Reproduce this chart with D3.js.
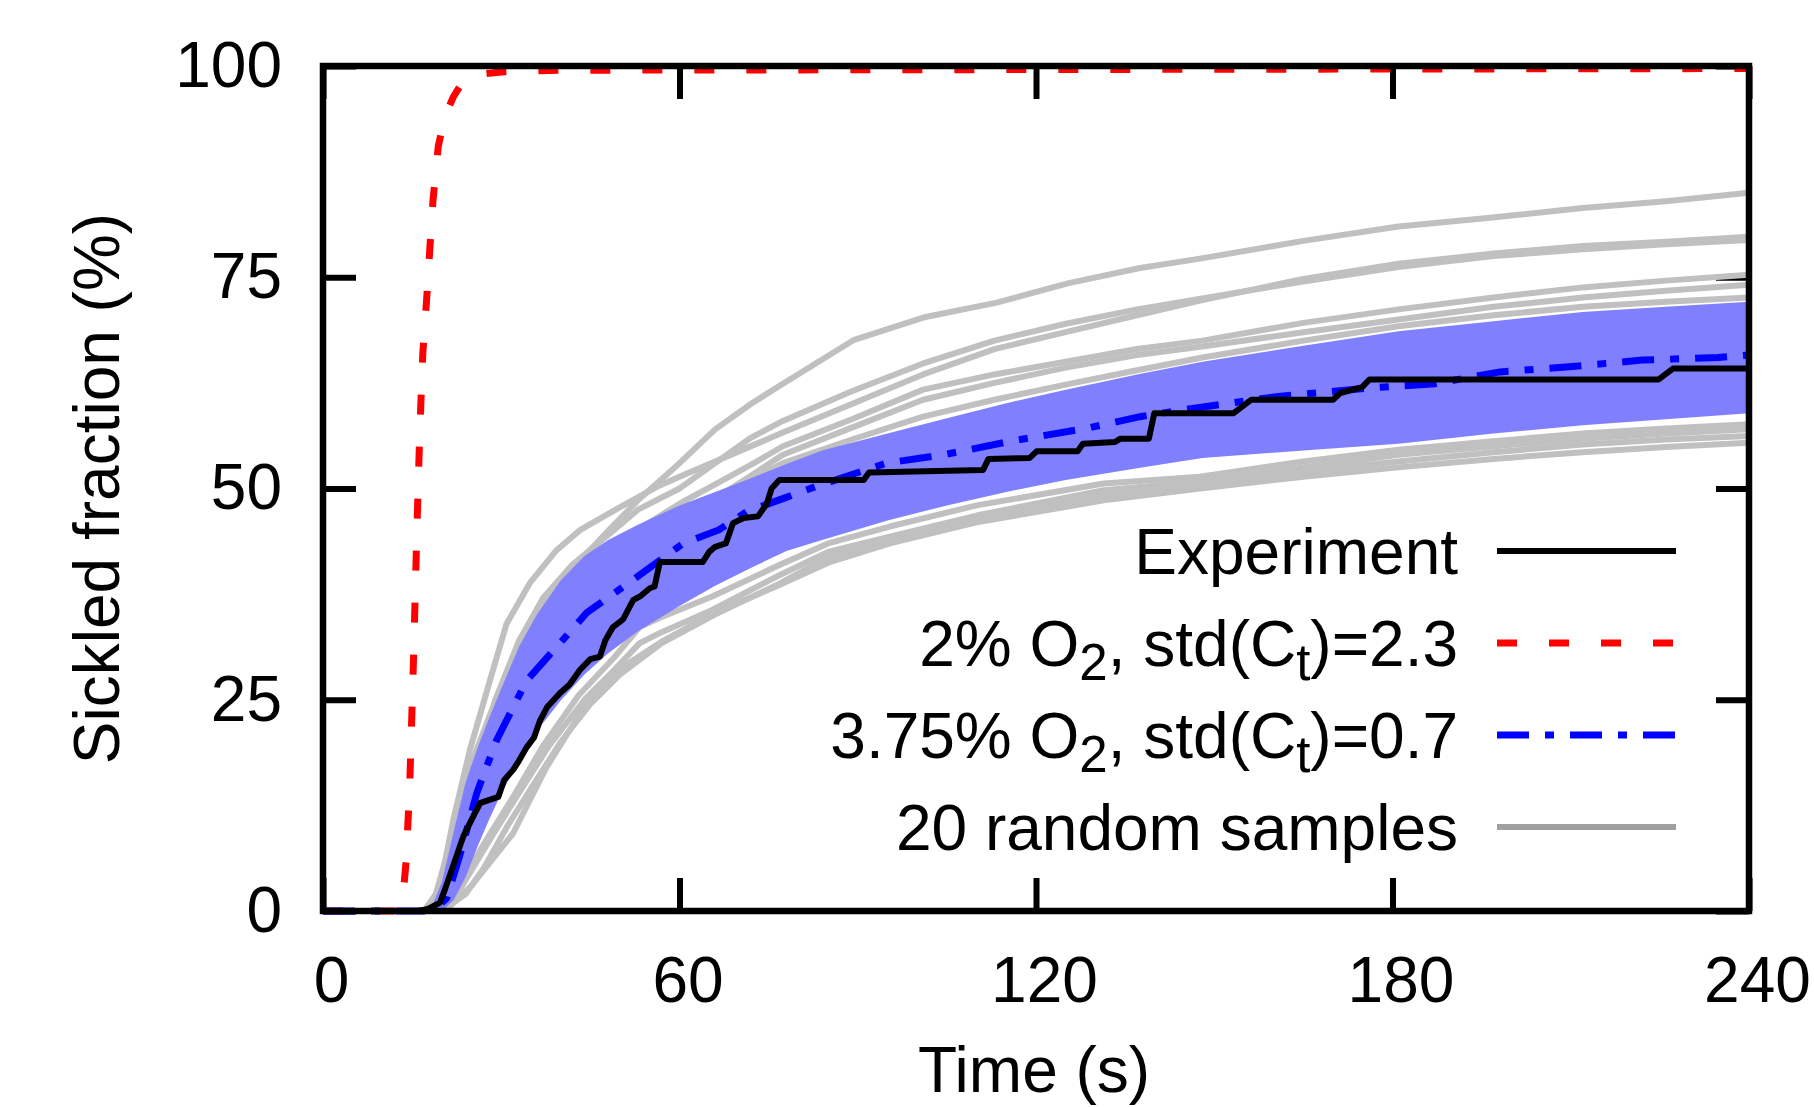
<!DOCTYPE html>
<html>
<head>
<meta charset="utf-8">
<script src="https://cdn.jsdelivr.net/npm/d3@7"></script>
<style>
  body { margin: 0; background: #fff; }
  svg text { font-family: "Liberation Sans", Arial, Helvetica, sans-serif; }
</style>
</head>
<body>
<div id="chart"></div>
<script>
// ticks
const xTicks = [0, 60, 120, 180, 240];
const yTicks = [0, 25, 50, 75, 100];

// experiment (black), [time s, sickled %]
const experiment = [[0,0],[16,0],[17.5,0.2],[19.7,1],[20.5,2.5],[23.6,8.8],[25.5,11.5],[26.5,12.8],[29.5,13.5],
  [30.5,15.5],[32,16.7],[33,17.8],[34.3,19.4],[35.5,20.5],[36.5,22.5],[37.7,24.1],[39.9,25.8],[41.5,26.8],
  [43.2,28.5],[45,29.8],[46.6,30.1],[47.5,32],[48.8,33.6],[50.5,34.5],[52.2,36.8],[53.5,37.3],[55,38.2],
  [55.8,38.4],[56.7,41.3],[63.9,41.3],[65,42.5],[66,43.1],[67.8,43.5],[69,45.9],[70.8,46.5],[73.2,46.7],
  [74.7,48.2],[75.5,50],[76.8,51],[91,51],[91.9,51.9],[111.1,52.2],[112,53.5],[118.9,53.6],[120.1,54.4],
  [127,54.4],[127.9,55.3],[133.3,55.5],[134.2,55.9],[139,55.9],[139.9,58.9],[153.2,58.9],[156.2,60.5],
  [170,60.5],[171.2,61.3],[174.9,62],[176.1,62.9],[224.8,62.9],[227.2,64.2],[240,64.2]];

// 2% O2, std(Ct)=2.3 (red)
const o2Two = [[0,0],[12.5,0],[13.5,2],[14,6],[14.6,15],[15.2,29],[15.8,45],[16.3,57],[16.8,66],[17.5,73],
  [18,78.6],[18.5,84],[19.4,90.5],[20.5,94],[21.9,96.3],[23.4,98],[26,99],[30,99.3],[40,99.5],[240,99.7]];

// 3.75% O2, std(Ct)=0.7 mean (blue)
const o2Mid = [[0,0],[17,0],[19,0.3],[20.8,1.5],[23,6.5],[25.9,14],[29.2,20.2],[34.3,27.3],[39.9,31.7],
  [44.4,35.3],[52.2,39.2],[60.6,43.5],[66.6,45.1],[71.4,47.3],[77.4,48.8],[82.8,50.2],[94.8,53],[104.5,54],
  [116.5,55.7],[128.4,57.1],[137.5,58.5],[144.6,59.3],[160.8,60.9],[176.1,61.9],[187.1,62.4],[198.1,63.8],
  [209.7,64.4],[222,65.2],[234.8,65.5],[240,65.8]];

// spread band around the blue mean
const bandT  = [18,20,22,24,26,28,30,33,36,40,44,48,53,60,66,72,78,84,95,105,115,125,137,148,165,181,197,212,226,240];
const bandHi = [0,3.4,9.4,15.2,19.3,22.9,26.3,31.3,35.1,39.1,42,43.9,45.7,48,49.6,51.2,52.9,54.5,56.5,58.3,60.1,61.7,63.5,65,66.9,68.6,69.8,70.9,71.5,72.1];
const bandLo = [0,0,1.3,4,7.6,10.9,13.9,17.8,21.3,24.9,28,30.5,33.1,36.1,38.5,40.6,42.6,43.9,46.2,48,49.6,51,52.4,53.6,54.5,55.3,56.5,57.5,58.2,58.9];

// random samples (grey)
const samples = [
  [[0,0],[18,0],[21,5],[24,14],[28,23],[32,30],[37,36],[42,40.5],[48,45],[53,48.6],[60,53],[66,57],[72,60],[77.4,62.4],[89.4,67.6],[101.4,70.3],[113.4,72],[125.5,74.3],[137.5,76.1],[147.6,77.2],[165,79.3],[181,81],[196,82],[212,83.2],[226,84],[240,85]],
  [[0,0],[18,0],[20,4],[22,11],[24.7,19],[28.1,27.3],[30.9,34],[34.8,38.8],[39.3,42.7],[43.3,45.1],[50,47.8],[56.2,50.2],[60,51.4],[77,56.5],[89,60],[101,63.5],[113,66.5],[125,68.5],[137,70.5],[148,72.3],[165,74.8],[181,76.6],[197,77.8],[212,78.7],[226,79.2],[240,79.8]],
  [[0,0],[18.5,0],[21,5],[23.5,12],[26,18],[29,25],[33,32],[37,37],[42,41],[48,44.5],[53,47.5],[60,50],[66,53],[72,56],[77.4,58],[89,61.5],[101,64.8],[113,67.5],[125,69.5],[137,71.2],[148,72.5],[165,74.5],[181,76.2],[197,77.5],[212,78.3],[226,78.9],[240,79.4]],
  [[0,0],[18.5,0],[21.5,4],[24,10],[27,17],[31,25],[35,31],[40,36.5],[45,40.5],[50,43.5],[55,46],[60,48.2],[66,50.5],[72,52.8],[77.4,55],[89,58.2],[101,61.7],[113,63.5],[125,65],[137,66.5],[148,67.5],[165,69.6],[181,71.2],[197,72.6],[212,73.8],[226,74.6],[240,75.3]],
  [[0,0],[19,0],[22,4],[25,10],[29,18],[33,25],[38,31.5],[44,37],[50,41],[55,43.8],[60,46],[66,48.8],[72,51.5],[77.4,54],[89,57.2],[101,60.5],[113,62.5],[125,64.3],[137,65.8],[148,66.8],[165,68.5],[181,70],[197,71.5],[212,72.6],[226,73.4],[240,74.1]],
  [[0,0],[19,0],[22.5,4],[26,11],[30,19],[35,27],[40,33],[46,38],[53,42.5],[60,46],[66,48.5],[72,51],[77.4,53],[89,55.8],[101,58.5],[113,60.5],[125,62.3],[137,64],[148,65.5],[165,67.5],[181,69.2],[197,70.5],[212,71.5],[226,72.1],[240,72.6]],
  [[0,0],[17,0],[19,2],[21,7],[23,13],[25,17.5],[28,23],[32,29],[37,34],[43,38.5],[50,42],[60,45.5],[80,51],[100,54.5],[130,58.5],[160,61.5],[200,64.5],[240,67]],
  [[0,0],[18,0],[20,3],[22,8.5],[24,14],[27,20],[30,25],[35,30.5],[40,34.5],[48,39],[60,43],[80,48.5],[100,52],[130,56],[160,59],[200,62],[240,64]],
  [[0,0],[19.5,0],[22,2],[25,5.5],[28,9],[32,13.5],[37,19.5],[43,25.5],[49,30],[53.3,33.6],[57,34.8],[65.4,37.2],[77,41],[85,43.5],[95.4,45.5],[110,48],[131.4,50.6],[147.6,51.4],[165,53.2],[181,54.6],[197,55.6],[212,56.5],[226,57.1],[240,57.6]],
  [[0,0],[20,0],[23,2.5],[26,6],[29,9.5],[33,14],[38,19.5],[44,25],[49,28.5],[53.3,31.7],[57,33],[65.4,35.6],[77,39.8],[85,42.5],[95.4,44.3],[110,46.8],[131.4,49.8],[147.6,50.8],[165,52.5],[181,54],[197,55],[212,55.9],[226,56.5],[240,57]],
  [[0,0],[20,0],[24,2],[27,5],[31,10],[35,14.5],[40,20],[45,24.5],[50,28],[57,31.7],[65.7,35],[77,38.8],[85.3,42],[95.4,44],[110,46.5],[131.4,49.2],[147.6,50.4],[165,52],[181,53.2],[197,54.3],[212,55.2],[226,55.8],[240,56.2]],
  [[0,0],[20.5,0],[25,3],[32,9.2],[37.6,17],[43.3,23.4],[48.8,28.1],[57.3,32],[65.7,35.2],[76.9,38.6],[85.3,41.3],[95.4,43.5],[110,46],[131.4,48.6],[147.6,50],[165,51.4],[181,52.5],[197,53.5],[212,54.3],[226,54.9],[240,55.4]]
];

// legend labels: [text, is subscript]
const legendLabels = [
  [["Experiment", false]],
  [["2% O", false], ["2", true], [", std(C", false], ["t", true], [")=2.3", false]],
  [["3.75% O", false], ["2", true], [", std(C", false], ["t", true], [")=0.7", false]],
  [["20 random samples", false]]
];

const width = 1814;
const height = 1107;
const margin = {top: 66, right: 65, bottom: 196, left: 323};
const fontSize = 64;

const svg = d3.select('#chart')
  .append('svg')
  .attr('width', width)
  .attr('height', height)
  .attr('viewBox', [0, 0, width, height]);

svg.append('rect').attr('width', width).attr('height', height).attr('fill', 'white');

const x = d3.scaleLinear()
  .domain([0, 240])
  .range([margin.left, width - margin.right]);

const y = d3.scaleLinear()
  .domain([0, 100])
  .range([height - margin.bottom, margin.top]);

const tickLen = 33;

function styleAxis(g) {
  g.select('.domain').remove();
  g.selectAll('.tick line').attr('stroke', 'black').attr('stroke-width', 6);
  g.selectAll('.tick text')
    .attr('font-size', fontSize)
    .attr('font-family', '"Liberation Sans", Arial, sans-serif')
    .attr('fill', 'black');
}

svg.append('g')
  .attr('transform', `translate(0,${y(0)})`)
  .call(d3.axisBottom(x).tickValues(xTicks).tickSizeInner(-tickLen).tickSizeOuter(0).tickPadding(46))
  .call(styleAxis)
  .call(g => g.selectAll('.tick text').attr('dx', 8));

svg.append('g')
  .attr('transform', `translate(${x(0)},0)`)
  .call(d3.axisLeft(y).tickValues(yTicks).tickSizeInner(-tickLen).tickSizeOuter(0).tickPadding(41))
  .call(styleAxis);

svg.append('g')
  .attr('transform', `translate(0,${y(100)})`)
  .call(d3.axisTop(x).tickValues(xTicks).tickSizeInner(-tickLen).tickSizeOuter(0).tickFormat(''))
  .call(styleAxis);

svg.append('g')
  .attr('transform', `translate(${x(240)},0)`)
  .call(d3.axisRight(y).tickValues(yTicks).tickSizeInner(-tickLen).tickSizeOuter(0).tickFormat(''))
  .call(styleAxis);

const line = d3.line()
  .x(d => x(d[0]))
  .y(d => y(d[1]));

// grey samples
svg.append('g')
  .selectAll('path')
  .data(samples)
  .join('path')
  .attr('d', line)
  .attr('fill', 'none')
  .attr('stroke', '#c0c0c0')
  .attr('stroke-width', 6)
  .attr('stroke-linejoin', 'round');

// std band
const band = d3.area()
  .x((d, i) => x(bandT[i]))
  .y0((d, i) => y(bandLo[i]))
  .y1((d, i) => y(bandHi[i]));

svg.append('path')
  .attr('d', band(bandT))
  .attr('fill', '#8080ff');

// red dashed
svg.append('path')
  .attr('d', line(o2Two))
  .attr('fill', 'none')
  .attr('stroke', '#ff0000')
  .attr('stroke-width', 7)
  .attr('stroke-dasharray', '20 32');

// blue dash-dot
svg.append('path')
  .attr('d', line(o2Mid))
  .attr('fill', 'none')
  .attr('stroke', '#0000ff')
  .attr('stroke-width', 7)
  .attr('stroke-dasharray', '32 16 9 16');

// experiment
svg.append('path')
  .attr('d', line(experiment))
  .attr('fill', 'none')
  .attr('stroke', 'black')
  .attr('stroke-width', 6)
  .attr('stroke-linejoin', 'round');

// frame
svg.append('rect')
  .attr('x', x(0))
  .attr('y', y(100))
  .attr('width', x(240) - x(0))
  .attr('height', y(0) - y(100))
  .attr('fill', 'none')
  .attr('stroke', 'black')
  .attr('stroke-width', 6.5);

// axis titles
svg.append('text')
  .attr('transform', `translate(119,${y(50)}) rotate(-90)`)
  .attr('text-anchor', 'middle')
  .attr('font-size', fontSize)
  .text('Sickled fraction (%)');

svg.append('text')
  .attr('x', (x(0) + x(240)) / 2 - 2)
  .attr('y', 1092)
  .attr('text-anchor', 'middle')
  .attr('font-size', fontSize)
  .text('Time (s)');

// legend
const legendStyles = [
  {color: 'black', width: 6, dash: null},
  {color: '#ff0000', width: 7, dash: '20 32'},
  {color: '#0000ff', width: 7, dash: '32 16 9 16'},
  {color: '#a0a0a0', width: 6, dash: null}
];
const legendTop = 551, legendStep = 92;
const legend = svg.append('g');

legendLabels.forEach((parts, i) => {
  const ly = legendTop + i * legendStep;
  const t = legend.append('text')
    .attr('x', 1458)
    .attr('y', ly + 23)
    .attr('text-anchor', 'end')
    .attr('font-size', fontSize);
  let shifted = false;
  parts.forEach(([s, sub]) => {
    const ts = t.append('tspan').text(s);
    if (sub && !shifted) { ts.attr('dy', 14).attr('font-size', 51); shifted = true; }
    else if (!sub && shifted) { ts.attr('dy', -14); shifted = false; }
    else if (sub) { ts.attr('font-size', 51); }
  });
  const st = legendStyles[i];
  legend.append('line')
    .attr('x1', 1497).attr('x2', 1676)
    .attr('y1', ly).attr('y2', ly)
    .attr('stroke', st.color)
    .attr('stroke-width', st.width)
    .attr('stroke-dasharray', st.dash);
});
</script>
</body>
</html>
